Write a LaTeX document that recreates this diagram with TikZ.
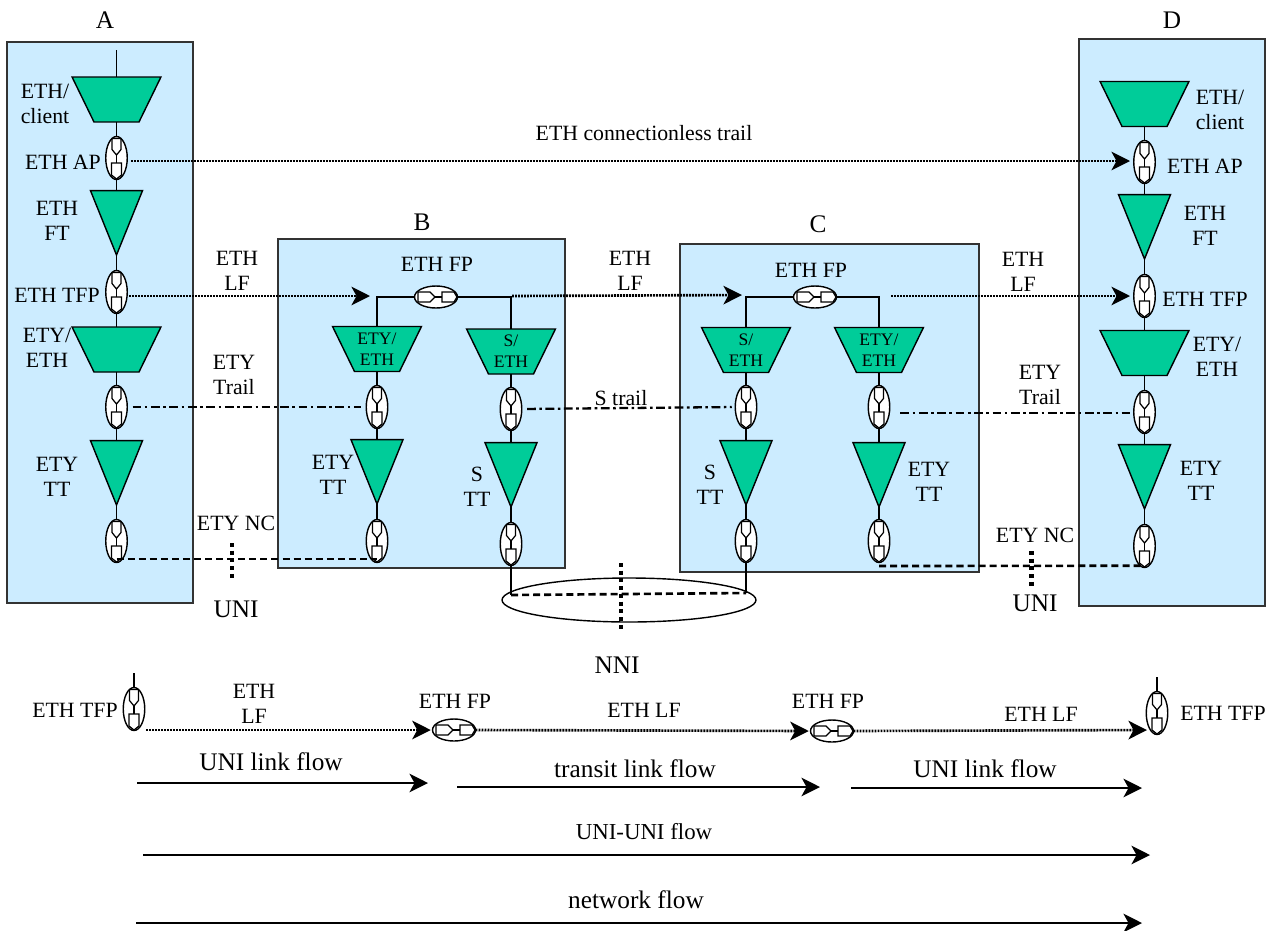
\documentclass[tikz,border=0pt]{standalone}
\usepackage{fontspec}
\setmainfont{Liberation Serif}
\usetikzlibrary{shapes.geometric,arrows.meta}
\definecolor{boxblue}{HTML}{CCECFF}
\definecolor{fngreen}{HTML}{00CC99}
\tikzset{
    linebox/.style={draw=black!80, fill=boxblue, line width=0.8pt},
    adapt/.style={trapezium, trapezium angle=64, shape border rotate=180,
        draw, fill=fngreen, line width=0.8pt, minimum width=1.66cm, minimum height=0.9cm,
        inner sep=1pt, outer sep=0pt},
    adaptlab/.style={align=center, inner sep=0pt, font=\fontsize{10}{12}\selectfont},
    term/.style={isosceles triangle, isosceles triangle apex angle=44, shape border rotate=-90,
        draw, fill=fngreen, line width=0.8pt, minimum width=1.04cm, minimum height=1.28cm,
        inner sep=1pt, outer sep=0pt, anchor=apex},
    tpv/.style={ellipse, draw, fill=white, line width=0.8pt, minimum width=0.43cm, minimum height=0.86cm, inner sep=0pt, outer sep=0pt},
    tph/.style={ellipse, draw, fill=white, line width=0.8pt, minimum width=0.86cm, minimum height=0.44cm, inner sep=0pt, outer sep=0pt},
    wire/.style={line width=0.8pt},
    lab/.style={align=center, inner sep=0pt, font=\fontsize{12.4}{14}\selectfont},
    flab/.style={align=center, inner sep=0pt, font=\fontsize{14.4}{16}\selectfont},
    tip/.style={-{Stealth[length=0.37cm, width=0.37cm, inset=0.1cm]}},
    lfline/.style={tip, line width=1.5pt, dash pattern=on 1.1072pt off 0.6pt},
    flow/.style={tip, line width=1.3pt},
    etyline/.style={line width=1.3pt, dash pattern=on 5pt off 2pt on 1.5pt off 2pt},
    ncline/.style={line width=1.5pt, dash pattern=on 4pt off 2.3pt},
    cutline/.style={line width=2.5pt, dash pattern=on 2.2pt off 2.2pt},
    pics/tpvin/.style={code={
        \draw[line width=0.7pt] (-4.5,-19.5) -- (4.5,-19.5) -- (4.5,-8.5) -- (0,-3) -- (-4.5,-8.5) -- cycle;
        \draw[line width=0.7pt] (0,-3) -- (0,5);
        \draw[line width=0.7pt] (-5,5) -- (5,5) -- (5,17) -- (0,21) -- (-5,17) -- cycle;
    }},
    pics/tphin/.style={code={
        \draw[line width=0.7pt] (-18,-5) -- (-6,-5) -- (-1,0) -- (-6,5) -- (-18,5) -- cycle;
        \draw[line width=0.7pt] (-1,0) -- (6,0);
        \draw[line width=0.7pt] (6,-5) -- (18,-5) -- (21,0) -- (18,5) -- (6,5) -- cycle;
    }},
}
\begin{document}
\begin{tikzpicture}[x=0.02cm, y=-0.02cm]
    \useasboundingbox (0,0) rectangle (1277,930);

    % Equipment boxes
    \draw[linebox] (7,42) rectangle (193,603);
    \draw[linebox] (278,239) rectangle (565,568);
    \draw[linebox] (680,244) rectangle (979,572);
    \draw[linebox] (1079,39) rectangle (1265,606);

    % Adaptation functions
    \node[adapt] (a1) at (116.5,99.5) {};
    \node[adapt] (a5) at (116.5,349.5) {};
    \node[adapt, label={[adaptlab]center:{ETY/\\ETH}}] (b1) at (377,349) {};
    \node[adapt, label={[adaptlab]center:{S/\\ETH}}] (b2) at (511,351.5) {};
    \node[adapt, label={[adaptlab]center:{S/\\ETH}}] (c1) at (746,350) {};
    \node[adapt, label={[adaptlab]center:{ETY/\\ETH}}] (c2) at (879,350) {};
    \node[adapt] (d1) at (1144.5,104) {};
    \node[adapt] (d5) at (1144.5,353) {};

    % Termination functions
    \foreach \nm/\px/\py in {a3/116.5/255, a7/116.5/505, b3/377/504, b4/511/507, c3/746/505, c4/879/507, d3/1144.5/259, d7/1144.5/509}
        \node[term] (\nm) at (\px,\py) {};

    % Vertical points
    \foreach \nm/\px/\py in {a2/116.5/158, a4/116.5/292, a6/116.5/407, a8/116.5/541,
            b5/377/407, b6/511/409, b7/377/541, b8/511/544,
            c5/746/407, c6/879/407, c7/746/541, c8/879/541,
            d2/1144.5/162, d4/1144.5/296, d6/1144.5/412, d8/1144.5/546,
            e1/134/709, e4/1157/713} {
        \node[tpv] (\nm) at (\px,\py) {};
        \pic at (\px,\py) {tpvin};
    }

    % Horizontal points
    \foreach \nm/\px/\py in {b0/436/297, c0/815/297, e2/454/730, e3/832/731} {
        \node[tph] (\nm) at (\px,\py) {};
        \pic at (\px,\py) {tphin};
    }

    % NNI link
    \node[ellipse, draw, line width=0.8pt, minimum width=5.08cm, minimum height=0.88cm, inner sep=0pt] (nni) at (629,600) {};

    % Free ends
    \coordinate (a0) at (116.5,50);
    \coordinate (e0) at (134,673);
    \coordinate (e5) at (1157,677);
    \coordinate (apin) at (1130,161);
    \coordinate (bin) at (370,296);
    \coordinate (cin) at (742,295);
    \coordinate (dfree) at (1130,296);
    \coordinate (bout) at (512,296);
    \coordinate (cout) at (891,296);
    \coordinate (etyr) at (1133,413);
    \coordinate (nl) at (511,595);
    \coordinate (nr) at (746,593);
    \coordinate (eend) at (1147,730);
    \coordinate (u1a) at (232,543);
    \coordinate (u1b) at (232,579);
    \coordinate (u2a) at (1031.5,551);
    \coordinate (u2b) at (1031.5,586);
    \coordinate (u3a) at (621,563);
    \coordinate (u3b) at (621,632);

    % Wires inside the boxes
    \foreach \p/\q in {a1/a2, a4/a5, a5/a6, b1/b5, b2/b6, c1/c5, c2/c6, d1/d2, d4/d5, d5/d6}
        \draw[wire] (\p.south) -- (\q.north);
    \draw[wire] (a0) -- (a1.north);
    \foreach \p/\q/\r in {a2/a3/a4, a6/a7/a8, b5/b3/b7, b6/b4/b8, c5/c3/c7, c6/c4/c8, d2/d3/d4, d6/d7/d8} {
        \draw[wire] (\p.south) -- (\q.lower side);
        \draw[wire] (\q.apex) -- (\r.north);
    }
    \draw[wire] (b0.west) -| (b1.north);
    \draw[wire] (b0.east) -| (b2.north);
    \draw[wire] (c0.west) -| (c1.north);
    \draw[wire] (c0.east) -| (c2.north);
    \draw[wire] (b8.south) -- (nl);
    \draw[wire] (c7.south) -- (nr);
    \draw[wire] (e0) -- (e1.north);
    \draw[wire] (e5) -- (e4.north);

    % Trails and link flows
    \draw[lfline, shorten <=2pt] (a2.east |- apin) -- (apin);
    \draw[lfline, shorten <=1pt] (a4.east |- bin) -- (bin);
    \draw[lfline] (bout) -- (cin);
    \draw[lfline] (cout) -- (dfree);
    \draw[etyline, shorten <=3pt, shorten >=3pt] (a6.east) -- (b5.west);
    \draw[etyline, shorten <=3pt, shorten >=2pt] (b6.east) -- (c5.west);
    \draw[etyline, shorten <=6pt] (c6.east |- etyr) -- (etyr);
    \draw[ncline] ([yshift=2pt]a8.south) -- ([yshift=2pt]b7.south);
    \draw[ncline] ([yshift=-2pt]c8.south) -- ([yshift=1pt]d8.south);
    \draw[ncline] (nl) -- (nr);
    \draw[cutline] (u1a) -- (u1b);
    \draw[cutline] (u2a) -- (u2b);
    \draw[cutline] (u3a) -- (u3b);

    % Bottom line
    \draw[lfline, shorten <=7pt, shorten >=1pt] (e1.south |- e2.west) -- (e2.west);
    \draw[lfline, shorten >=1pt] (e2.east) -- (e3.west);
    \draw[lfline] (e3.east) -- (eend);

    % Flows
    \foreach \nm/\xa/\ya/\xb in {f1/137/783/428, f2/457/787/820, f3/851/788/1142, f4/143/855/1150, f5/136/923/1142} {
        \coordinate (\nm s) at (\xa,\ya);
        \coordinate (\nm e) at (\xb,\ya);
        \draw[flow] (\nm s) -- (\nm e);
    }

    % Labels
    \foreach \nm/\px/\py/\txt in {
        l1/45/104/{ETH/\\client}, l2/63/162/ETH AP, l3/57/221/{ETH\\FT}, l4/57/295/ETH TFP,
        l5/47/348/{ETY/\\ETH}, l6/57/477/{ETY\\TT},
        l7/237/271/{ETH\\LF}, l8/234/375/{ETY\\Trail}, l9/236/523/ETY NC,
        l11/437/264/ETH FP, l12/333/475/{ETY\\TT}, l13/477/487/{S\\TT},
        l14/630/271/{ETH\\LF}, l15/621/398/S trail, l16/644/133/ETH connectionless trail,
        l17/811/270/ETH FP, l18/710/485/{S\\TT}, l19/929/482/{ETY\\TT},
        l20/1023/272/{ETH\\LF}, l21/1040/385/{ETY\\Trail}, l22/1035/535/ETY NC,
        l25/1220/110/{ETH/\\client}, l26/1205/166/ETH AP, l27/1205/226/{ETH\\FT}, l28/1205/299/ETH TFP,
        l29/1217/357/{ETY/\\ETH}, l30/1201/481/{ETY\\TT},
        l31/75/710/ETH TFP, l32/254/704/{ETH\\LF}, l33/455/701/ETH FP, l34/644/710/ETH LF,
        l35/828/701/ETH FP, l36/1041/714/ETH LF, l37/1223/713/ETH TFP}
        \node[lab] (\nm) at (\px,\py) {\txt};
    \foreach \nm/\px/\py/\txt in {la/105/20/A, lb/422/222/B, lc/818/224/C, ld/1172/20/D,
        l10/236/609/UNI, l23/1035/603/UNI, l24/617/665/NNI,
        l38/271/762/UNI link flow, l39/635/769/transit link flow, l40/985/769/UNI link flow,
        l42/636/900/network flow}
        \node[flab] (\nm) at (\px,\py) {\txt};
    \node[flab, font=\fontsize{13}{15}\selectfont] (l41) at (644,832) {UNI-UNI flow};
\end{tikzpicture}
\end{document}
